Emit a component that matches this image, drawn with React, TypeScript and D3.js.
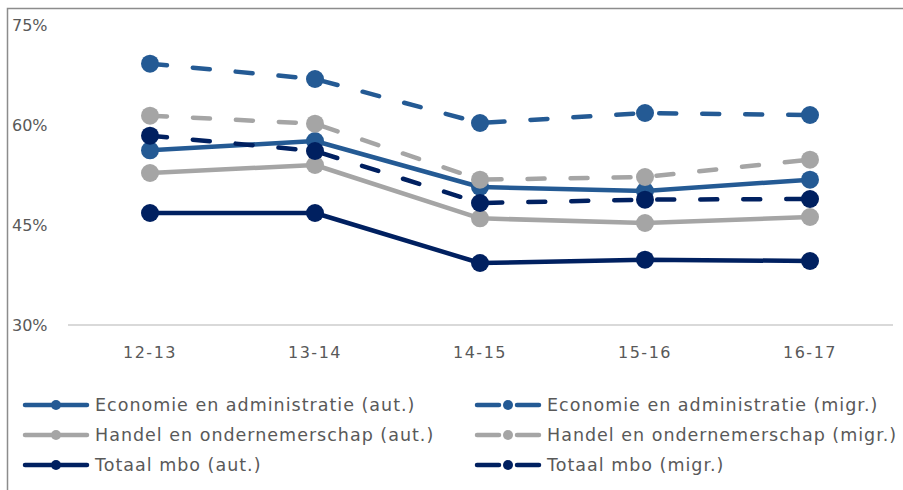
import React from "react";
import * as d3 from "d3";

const years = ["12-13", "13-14", "14-15", "15-16", "16-17"];
const yTicks = [30, 45, 60, 75];

const econAut = [56.2, 57.6, 50.7, 50.1, 51.8];
const econMigr = [69.2, 66.9, 60.3, 61.8, 61.5];
const handelAut = [52.8, 54.0, 46.0, 45.3, 46.2];
const handelMigr = [61.4, 60.2, 51.8, 52.2, 54.8];
const totaalAut = [46.8, 46.8, 39.3, 39.8, 39.6];
const totaalMigr = [58.4, 56.1, 48.3, 48.8, 48.9];

const BLUE = "#245A94";
const GREY = "#A5A5A5";
const NAVY = "#002060";

const series = [
  { name: "Economie en administratie (aut.)", values: econAut, color: BLUE, dashed: false },
  { name: "Economie en administratie (migr.)", values: econMigr, color: BLUE, dashed: true },
  { name: "Handel en ondernemerschap (aut.)", values: handelAut, color: GREY, dashed: false },
  { name: "Handel en ondernemerschap (migr.)", values: handelMigr, color: GREY, dashed: true },
  { name: "Totaal mbo (aut.)", values: totaalAut, color: NAVY, dashed: false },
  { name: "Totaal mbo (migr.)", values: totaalMigr, color: NAVY, dashed: true },
];

// draw order: solid lines behind dashed, as in the original
const drawOrder = [0, 2, 4, 1, 3, 5];

const width = 903;
const height = 490;
const font = "'DejaVu Sans', sans-serif";

const App = () => {
  const x = d3.scalePoint<string>().domain(years).range([150, 810]);
  const y = d3.scaleLinear().domain([30, 75]).range([325, 25]);
  const line = d3
    .line<number>()
    .x((_, i) => x(years[i]) as number)
    .y((d) => y(d));

  return (
    <div style={{ position: "fixed", left: 0, top: 0 }}>
      <svg width={width} height={height} style={{ display: "block", background: "#fff" }}>
        {/* frame */}
        <path d={`M7.5,${height} V8.5 H${width}`} fill="none" stroke="#8c8c8c" strokeWidth={1.5} />

        {/* baseline */}
        <line x1={68} x2={893} y1={y(30)} y2={y(30)} stroke="#d9d9d9" strokeWidth={2} />

        {yTicks.map((t) => (
          <text key={t} x={12} y={y(t)} dy="0.35em" fontSize={16} fill="#595959" fontFamily={font}>
            {t}%
          </text>
        ))}
        {years.map((yr) => (
          <text key={yr} x={x(yr)} y={352} dy="0.35em" textAnchor="middle" fontSize={16} letterSpacing={1.5} fill="#595959" fontFamily={font}>
            {yr}
          </text>
        ))}

        {drawOrder.map((i) => {
          const s = series[i];
          return (
            <g key={s.name}>
              <path
                d={line(s.values) || ""}
                fill="none"
                stroke={s.color}
                strokeWidth={4.5}
                strokeLinecap="round"
                strokeLinejoin="round"
                strokeDasharray={s.dashed ? "17 26" : undefined}
              />
              {s.values.map((v, j) => (
                <circle key={j} cx={x(years[j])} cy={y(v)} r={9} fill={s.color} />
              ))}
            </g>
          );
        })}

        {/* legend */}
        {series.map((s, i) => {
          const col = i % 2;
          const row = Math.floor(i / 2);
          const x0 = col === 0 ? 23 : 475;
          const ly = 405 + row * 30;
          return (
            <g key={s.name} transform={`translate(${x0},${ly})`}>
              {s.dashed ? (
                <>
                  <line x1={2} x2={24} y1={0} y2={0} stroke={s.color} strokeWidth={4.5} strokeLinecap="round" />
                  <line x1={42} x2={64} y1={0} y2={0} stroke={s.color} strokeWidth={4.5} strokeLinecap="round" />
                </>
              ) : (
                <line x1={2} x2={64} y1={0} y2={0} stroke={s.color} strokeWidth={4.5} strokeLinecap="round" />
              )}
              <circle cx={33} cy={0} r={5} fill={s.color} />
              <text x={72} y={0} dy="0.35em" fontSize={17.5} letterSpacing={1} fill="#595959" fontFamily={font}>
                {s.name}
              </text>
            </g>
          );
        })}
      </svg>
    </div>
  );
};

export default App;
